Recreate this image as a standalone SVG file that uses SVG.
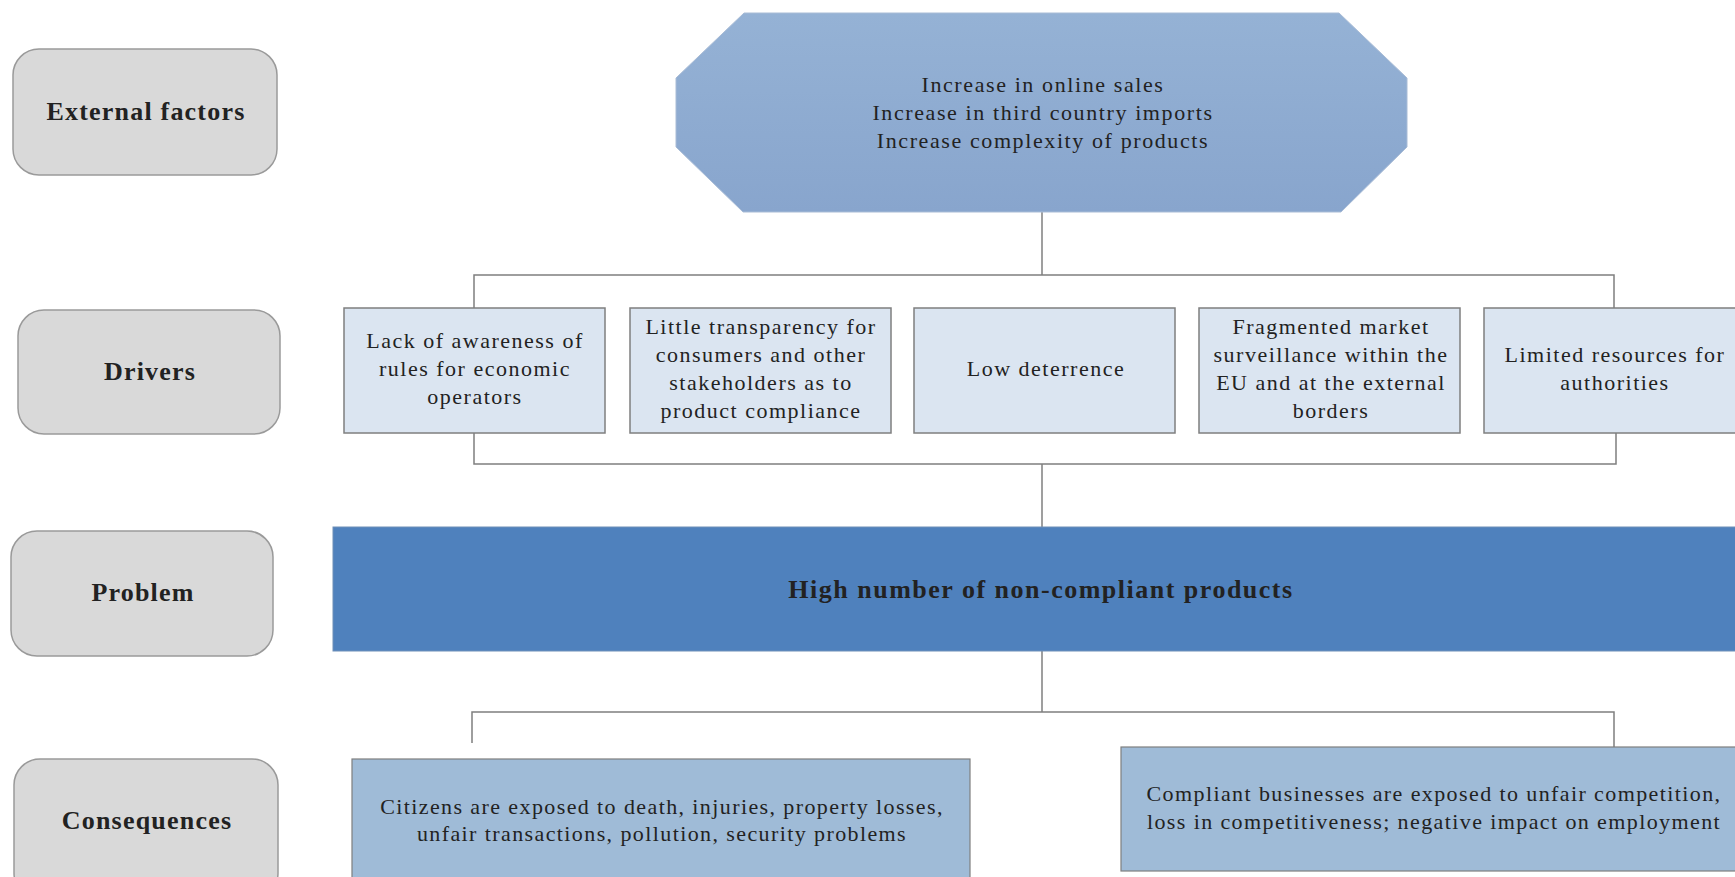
<svg xmlns="http://www.w3.org/2000/svg" width="1735" height="877" viewBox="0 0 1735 877">
<style>
text{font-family:"Liberation Serif","Times New Roman",serif;fill:#222222;text-anchor:middle}
.lbl rect{fill:#d9d9d9;stroke:#9a9a9a;stroke-width:1.5}
.lbl text{font-size:26px;font-weight:bold;letter-spacing:1.2px}
.drv rect{fill:#dbe5f1;stroke:#7f7f7f;stroke-width:1.5}
.drv text{font-size:22px;letter-spacing:1.5px}
.oct text{font-size:22px;letter-spacing:1.6px}
.con rect{fill:#9fbbd7;stroke:#7f7f7f;stroke-width:1.2}
.con text{font-size:22px;letter-spacing:1.4px}
.conn line,.conn polyline{stroke:#7f7f7f;stroke-width:1.5;fill:none}
</style>
<defs>
<linearGradient id="og" x1="0" y1="0" x2="0" y2="1">
<stop offset="0" stop-color="#95b2d5"/>
<stop offset="1" stop-color="#88a5cd"/>
</linearGradient>
</defs>
<rect width="1735" height="877" fill="#ffffff"/>

<g id="connectors" class="conn">
<line x1="1042" y1="212" x2="1042" y2="275"/>
<polyline points="474,308 474,275 1614,275 1614,308"/>
<polyline points="474,433 474,464 1616,464 1616,433"/>
<line x1="1042" y1="464" x2="1042" y2="527"/>
<line x1="1042" y1="651" x2="1042" y2="712"/>
<polyline points="472,743 472,712 1614,712 1614,747"/>
</g>

<g id="label-external" class="lbl"><rect x="13" y="49" width="264" height="126" rx="26"/><text x="146" y="120">External factors</text></g>
<g id="label-drivers" class="lbl"><rect x="18" y="310" width="262" height="124" rx="26"/><text x="150" y="380">Drivers</text></g>
<g id="label-problem" class="lbl"><rect x="11" y="531" width="262" height="125" rx="26"/><text x="143" y="601">Problem</text></g>
<g id="label-consequences" class="lbl"><rect x="14" y="759" width="264" height="140" rx="26"/><text x="147" y="829">Consequences</text></g>

<g id="external-factors" class="oct">
<polygon points="676,78 744,13 1339,13 1407,78 1407,147 1341,212 743,212 676,147" fill="url(#og)" stroke="#a9bcd6" stroke-width="1"/>
<text x="1043" y="92">Increase in online sales</text>
<text x="1043" y="120">Increase in third country imports</text>
<text x="1043" y="148">Increase complexity of products</text>
</g>

<g id="driver-1" class="drv"><rect x="344" y="308" width="261" height="125"/>
<text x="475" y="348">Lack of awareness of</text><text x="475" y="376">rules for economic</text><text x="475" y="404">operators</text></g>
<g id="driver-2" class="drv"><rect x="630" y="308" width="261" height="125"/>
<text x="761" y="334">Little transparency for</text><text x="761" y="362">consumers and other</text><text x="761" y="390">stakeholders as to</text><text x="761" y="418">product compliance</text></g>
<g id="driver-3" class="drv"><rect x="914" y="308" width="261" height="125"/>
<text x="1046" y="376">Low deterrence</text></g>
<g id="driver-4" class="drv"><rect x="1199" y="308" width="261" height="125"/>
<text x="1331" y="334">Fragmented market</text><text x="1331" y="362">surveillance within the</text><text x="1331" y="390">EU and at the external</text><text x="1331" y="418">borders</text></g>
<g id="driver-5" class="drv"><rect x="1484" y="308" width="262" height="125"/>
<text x="1615" y="362">Limited resources for</text><text x="1615" y="390">authorities</text></g>

<g id="problem"><rect x="333" y="527" width="1414" height="124" fill="#4f81bd" stroke="#6f8fb8" stroke-width="1"/>
<text x="1041" y="598" style="font-size:26px;font-weight:bold;letter-spacing:1.5px">High number of non-compliant products</text></g>

<g id="consequence-1" class="con"><rect x="352" y="759" width="618" height="130"/>
<text x="662" y="814">Citizens are exposed to death, injuries, property losses,</text><text x="662" y="841">unfair transactions, pollution, security problems</text></g>
<g id="consequence-2" class="con"><rect x="1121" y="747" width="624" height="124"/>
<text x="1434" y="801">Compliant businesses are exposed to unfair competition,</text><text x="1434" y="829">loss in competitiveness; negative impact on employment</text></g>
</svg>
